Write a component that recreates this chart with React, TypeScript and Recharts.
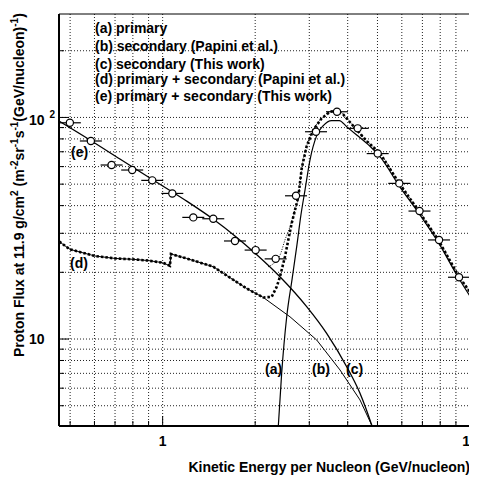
import { ComposedChart, Line, Scatter, XAxis, YAxis, ReferenceLine } from "recharts";

// measured points (circles with bin-width error bars)
const dataX = [0.499, 0.584, 0.682, 0.796, 0.925, 1.075, 1.258, 1.461, 1.719, 2.007, 2.332, 2.716, 3.155, 3.692, 4.311, 5.008, 5.888, 6.85, 7.93, 9.21];
const dataY = [94.6, 78.3, 61.0, 57.9, 52.0, 45.4, 35.4, 34.9, 27.7, 25.2, 23.0, 44.3, 86.2, 106.1, 89.3, 68.7, 50.4, 37.8, 28.0, 19.0];

// (a) primary
const aX = [2.363, 2.439, 2.533, 2.635, 2.735, 2.818, 2.905, 3.015, 3.171, 3.332, 3.548, 3.756, 3.97, 4.279, 4.727, 5.095, 5.888, 6.84, 7.91, 9.21, 10];
const aY = [3.5, 7.0, 12.6, 18.5, 26.6, 36.3, 47.0, 64.2, 82.8, 91.9, 96.8, 96.8, 90.8, 83.3, 74.1, 66.5, 49.0, 36.7, 27.1, 18.7, 15.6];

// (b) secondary (Papini et al.)
const bX = [0.461, 0.499, 0.602, 0.701, 0.799, 0.898, 1.0, 1.056, 1.064, 1.197, 1.461, 1.575, 1.877, 2.126, 2.596, 3.171, 3.776, 4.386, 4.787, 5.02];
const bY = [27.5, 25.4, 23.7, 23.1, 22.9, 22.6, 22.1, 21.4, 24.2, 23.1, 21.2, 19.8, 16.9, 15.4, 12.6, 9.9, 7.25, 5.31, 4.09, 3.29];

// (c) secondary (This work)
const cX = [0.46, 0.58, 0.726, 0.909, 1.182, 1.458, 1.719, 2.012, 2.408, 2.942, 3.417, 3.97, 4.386, 4.787, 5.02];
const cY = [96.3, 79.1, 64.9, 53.3, 42.4, 34.8, 29.2, 24.2, 19.1, 14.0, 10.6, 7.5, 5.69, 4.09, 3.32];

// (d) primary + secondary (Papini et al.)
const dX = [0.461, 0.499, 0.602, 0.701, 0.799, 0.898, 1.0, 1.056, 1.064, 1.197, 1.461, 1.575, 1.877, 2.126, 2.263, 2.35, 2.408, 2.5, 2.563, 2.629, 2.695, 2.763, 2.834, 2.942, 3.091, 3.291, 3.503, 3.684, 3.869, 4.172, 4.611, 5.095, 5.888, 6.84, 7.91, 9.21, 10];
const dY = [27.5, 25.4, 23.7, 23.1, 22.9, 22.6, 22.1, 21.4, 24.2, 23.1, 21.2, 19.8, 16.9, 15.4, 15.5, 17.2, 19.1, 23.5, 28.0, 33.3, 38.2, 43.7, 58.9, 74.3, 87.7, 99.1, 106.1, 107.4, 103.1, 91.5, 78.3, 68.9, 50.4, 37.5, 27.8, 19.1, 16.3];

// (e) primary + secondary (This work), where it leaves (c)
const eX = [2.206, 2.408, 2.5, 2.596, 2.695, 2.763, 2.834, 2.942, 3.091, 3.291, 3.503, 3.684, 3.869, 4.172, 4.611, 5.095, 5.888, 6.84, 7.91, 9.21, 10];
const eY = [21.2, 23.9, 28.0, 32.1, 38.2, 43.7, 58.9, 74.3, 87.7, 99.1, 106.1, 107.4, 103.1, 91.5, 78.3, 68.9, 50.4, 37.5, 27.8, 19.1, 16.3];

const xTicks = [0.5, 0.6, 0.7, 0.8, 0.9, 1, 2, 3, 4, 5, 6, 7, 8, 9, 10];
const yTicks = [5, 6, 7, 8, 9, 10, 20, 30, 40, 50, 60, 70, 80, 90, 100, 200];
const xDomain = [0.46, 10];
const yDomain = [4.05, 293];

const legend = [
  "(a) primary",
  "(b) secondary (Papini et al.)",
  "(c) secondary (This work)",
  "(d) primary + secondary (Papini et al.)",
  "(e) primary + secondary (This work)",
];

const pts = (xs: number[], ys: number[]) => xs.map((x, i) => ({ x, y: ys[i] }));

const font = { fontFamily: "'Liberation Sans', Arial, Helvetica, sans-serif", fontWeight: 700, fontSize: 14 };

const XTick = ({ x, y, payload }: any) => {
  const v = payload.value;
  const major = v === 1 || v === 10;
  return (
    <g>
      <line x1={x} x2={x} y1={y} y2={y - (major ? 10 : 5)} stroke="#000" />
      {major && (
        <text x={x} y={y + 20} textAnchor="middle" fill="#000" style={font}>
          {v}
        </text>
      )}
    </g>
  );
};

const YTick = ({ x, y, payload }: any) => {
  const v = payload.value;
  const major = v === 10 || v === 100;
  return (
    <g>
      <line x1={x} x2={x + (major ? 10 : 5)} y1={y} y2={y} stroke="#000" />
      {v === 10 && (
        <text x={x - 30} y={y + 5} fill="#000" style={font}>10</text>
      )}
      {v === 100 && (
        <text x={x - 30} y={y + 8} fill="#000" style={font}>
          10<tspan dx={5} dy={-7} fontSize={10}>2</tspan>
        </text>
      )}
    </g>
  );
};

const Marker = (p: any) => {
  const { cx, cy } = p;
  if (cx == null || cy == null) return null;
  return (
    <g>
      <line x1={cx - 11} x2={cx + 11} y1={cy} y2={cy} stroke="#000" strokeWidth={1.2} />
      <circle cx={cx} cy={cy} r={3.6} fill="#fff" stroke="#000" strokeWidth={1.2} />
    </g>
  );
};

const grid = { stroke: "#222", strokeDasharray: "1 2", strokeWidth: 1 };

export default function App() {
  return (
    <div style={{ position: "relative", width: 470, height: 469 }}>
      <ComposedChart width={470} height={469} margin={{ top: 6, right: 8, bottom: 0, left: 0 }}>
        <XAxis
          dataKey="x" type="number" scale="log" domain={xDomain} allowDataOverflow
          ticks={xTicks} interval={0} tick={<XTick />} tickSize={0} tickMargin={0}
          tickLine={false} height={51} axisLine={{ stroke: "#000", strokeWidth: 2 }}
        />
        <YAxis
          dataKey="y" type="number" scale="log" domain={yDomain} allowDataOverflow
          ticks={yTicks} interval={0} tick={<YTick />} tickSize={0} tickMargin={0}
          tickLine={false} width={51} axisLine={{ stroke: "#000", strokeWidth: 2 }}
        />
        {xTicks.filter((t) => t < 10).map((t) => (
          <ReferenceLine key={"gx" + t} x={t} {...grid} />
        ))}
        {yTicks.map((t) => (
          <ReferenceLine key={"gy" + t} y={t} {...grid} />
        ))}
        <ReferenceLine y={yDomain[1]} stroke="#000" strokeWidth={1} />
        <ReferenceLine x={xDomain[1]} stroke="#000" strokeWidth={1} />

        <Line data={pts(bX, bY)} dataKey="y" type="linear" stroke="#000" strokeWidth={1} dot={false} isAnimationActive={false} />
        <Line data={pts(cX, cY)} dataKey="y" type="monotoneX" stroke="#000" strokeWidth={1.3} dot={false} isAnimationActive={false} />
        <Line data={pts(aX, aY)} dataKey="y" type="monotoneX" stroke="#000" strokeWidth={1.2} dot={false} isAnimationActive={false} />
        <Line data={pts(dX, dY)} dataKey="y" type="linear" stroke="#000" strokeWidth={2.6} strokeDasharray="2.5 2" dot={false} isAnimationActive={false} />
        <Line data={pts(eX, eY)} dataKey="y" type="monotoneX" stroke="#000" strokeWidth={1} strokeDasharray="1 1.5" dot={false} isAnimationActive={false} />
        <Scatter data={pts(dataX, dataY)} dataKey="y" shape={<Marker />} isAnimationActive={false} />
      </ComposedChart>

      <svg width={470} height={469} style={{ position: "absolute", left: 0, top: 0, pointerEvents: "none" }}>
        <g transform="translate(-8,-8)" fill="#000" style={font}>
          {legend.map((t, i) => (
            <text key={t} x={95} y={[33, 50.5, 68.5, 84, 101][i]}>{t}</text>
          ))}
          <text x={71} y={157}>(e)</text>
          <text x={70} y={268}>(d)</text>
          <text x={265} y={374}>(a)</text>
          <text x={312} y={374}>(b)</text>
          <text x={346} y={374}>(c)</text>
          <text x={470} y={472} textAnchor="end">Kinetic Energy per Nucleon (GeV/nucleon)</text>
          <text transform="rotate(-90)" x={-357} y={24}>
            Proton Flux at 11.9 g/cm<tspan dy={-6} fontSize={10}>2</tspan>
            <tspan dy={6}> (m</tspan><tspan dy={-6} fontSize={10}>-2</tspan>
            <tspan dy={6}>sr</tspan><tspan dy={-6} fontSize={10}>-1</tspan>
            <tspan dy={6}>s</tspan><tspan dy={-6} fontSize={10}>-1</tspan>
            <tspan dy={6}>(GeV/nucleon)</tspan><tspan dy={-6} fontSize={10}>-1</tspan>
            <tspan dy={6}>)</tspan>
          </text>
        </g>
      </svg>
    </div>
  );
}
